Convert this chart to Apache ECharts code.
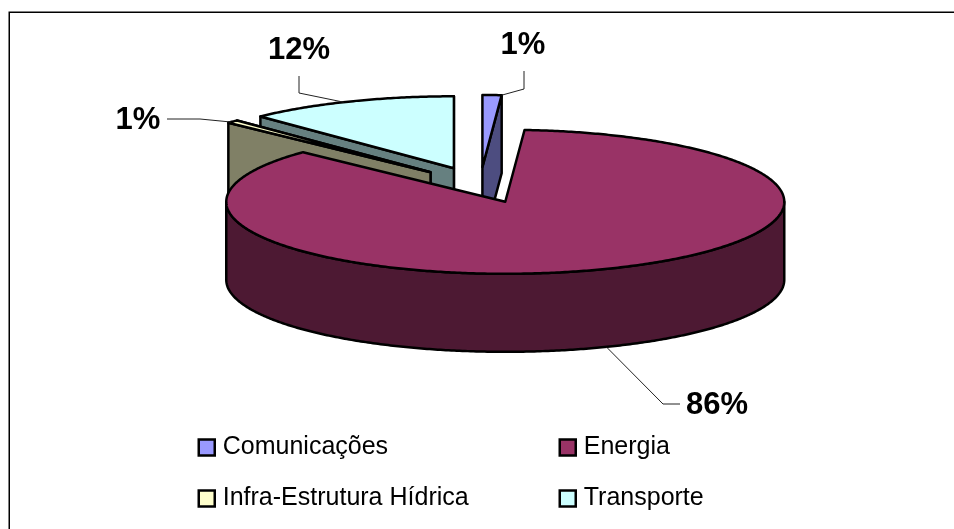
<!DOCTYPE html>
<html>
<head>
<meta charset="utf-8">
<style>
  html, body { margin: 0; padding: 0; background: #fff; }
  #chart { width: 954px; height: 529px; }
</style>
<script src="https://cdn.jsdelivr.net/npm/echarts@6/dist/echarts.min.js"></script>
</head>
<body>
<div id="chart"></div>
<script>
const categories = ['Comunicações', 'Energia', 'Infra-Estrutura Hídrica', 'Transporte'];
const shares = [1.1, 86, 0.7, 12.2];
const shareLabels = ['1%', '86%', '1%', '12%'];
const topColors = ['#9999FF', '#993366', '#FFFFCC', '#CCFFFF'];
const sideColors = ['#4D4D80', '#4D1933', '#808066', '#668080'];

// back-to-front paint order of the slices
const paintOrder = [3, 2, 0, 1];

// fake 3D pie geometry, tilted ellipse with exploded slices
const pie = { cx: 480, cy: 185, rx: 279, ry: 72, depth: 78, explode: 0.25 };

// leader lines: where on the rim (fraction of the slice) and the elbow points
const leaders = [
  { at: 1, elbow: [[524, 89], [524, 71]], text: [523, 45] },
  { at: 0.5, elbow: [[663, 404], [680, 404]], text: [717, 405] },
  { at: 0.3, elbow: [[200, 119], [167, 119]], text: [138, 120] },
  { at: 0.47, elbow: [[299, 93], [299, 76]], text: [299, 50] }
];

const total = shares.reduce((a, b) => a + b, 0);

function sliceAngles(i) {
  let before = 0;
  for (let k = 0; k < i; k++) before += shares[k];
  return [before / total * Math.PI * 2, (before + shares[i]) / total * Math.PI * 2];
}

function rimPoint(o, a) {
  return [o[0] + pie.rx * Math.sin(a), o[1] - pie.ry * Math.cos(a)];
}

function down(p) {
  return [p[0], p[1] + pie.depth];
}

function arcPoints(o, a0, a1) {
  const pts = [];
  const steps = Math.max(2, Math.ceil((a1 - a0) / 0.01));
  for (let s = 0; s <= steps; s++) pts.push(rimPoint(o, a0 + (a1 - a0) * s / steps));
  return pts;
}

function face(points, fill) {
  return {
    type: 'polygon',
    shape: { points: points },
    style: { fill: fill, stroke: '#000', lineWidth: 2.5, lineJoin: 'round' }
  };
}

function buildSlice(i) {
  const [a0, a1] = sliceAngles(i);
  const mid = (a0 + a1) / 2;
  const o = [
    pie.cx + pie.explode * pie.rx * Math.sin(mid),
    pie.cy - pie.explode * pie.ry * Math.cos(mid)
  ];
  const side = sideColors[i];
  const kids = [];

  // cut faces, only the ones that can be seen from the front
  const p0 = rimPoint(o, a0);
  const p1 = rimPoint(o, a1);
  if (i !== 1) {
    kids.push(face([o, p1, down(p1), down(o)], side));
    if (Math.sin(a0) < 0) kids.push(face([o, p0, down(p0), down(o)], side));
  }

  // outer wall, the part of the rim that faces the viewer
  const w0 = Math.max(a0, Math.PI / 2);
  const w1 = Math.min(a1, Math.PI * 1.5);
  if (w1 > w0) {
    const arc = arcPoints(o, w0, w1);
    kids.push(face(arc.concat(arc.map(down).reverse()), side));
  }

  // top face
  kids.push(face([o].concat(arcPoints(o, a0, a1)), topColors[i]));
  return { o, a0, a1, kids };
}

function renderSlice(i) {
  return function () {
    return { type: 'group', children: buildSlice(i).kids };
  };
}

function renderLeader(params) {
  const i = params.dataIndex;
  const s = buildSlice(i);
  const l = leaders[i];
  const a = s.a0 + (s.a1 - s.a0) * l.at;
  let start = rimPoint(s.o, a);
  if (Math.cos(a) < 0) start = down(start);
  return {
    type: 'group',
    children: [
      {
        type: 'polyline',
        shape: { points: [start].concat(l.elbow) },
        style: { stroke: '#222', lineWidth: 1, fill: null }
      },
      {
        type: 'text',
        style: {
          x: l.text[0],
          y: l.text[1],
          text: shareLabels[i],
          fill: '#000',
          font: 'bold 31px "Liberation Sans", Arial, sans-serif',
          align: 'center',
          verticalAlign: 'middle'
        }
      }
    ]
  };
}

const series = paintOrder.map(i => ({
  type: 'custom',
  name: categories[i],
  coordinateSystem: 'none',
  silent: true,
  animation: false,
  itemStyle: { color: topColors[i] },
  data: [shares[i]],
  renderItem: renderSlice(i)
}));

series.push({
  type: 'custom',
  name: 'rotulos',
  coordinateSystem: 'none',
  silent: true,
  animation: false,
  z: 5,
  data: shares,
  renderItem: renderLeader
});

const legendBase = {
  orient: 'vertical',
  top: 435,
  itemWidth: 16,
  itemHeight: 16,
  itemGap: 26,
  selectedMode: false,
  padding: 0,
  icon: 'rect',
  itemStyle: { borderColor: '#000', borderWidth: 2.5 },
  textStyle: { color: '#000', fontSize: 25, fontFamily: '"Liberation Sans", Arial, sans-serif', padding: [4, 0, 0, 3] }
};

const chart = echarts.init(document.getElementById('chart'), null, { renderer: 'canvas' });
chart.setOption({
  backgroundColor: '#fff',
  animation: false,
  legend: [
    Object.assign({}, legendBase, { left: 197.5, data: [categories[0], categories[2]] }),
    Object.assign({}, legendBase, { left: 558.5, data: [categories[1], categories[3]] })
  ],
  // the frame only shows on the top and left sides
  graphic: [{
    type: 'polyline',
    shape: { points: [[9.25, 540], [9.25, 12.25], [960, 12.25]] },
    style: { fill: null, stroke: '#000', lineWidth: 1.5 },
    silent: true
  }],
  series: series
});
</script>
</body>
</html>
